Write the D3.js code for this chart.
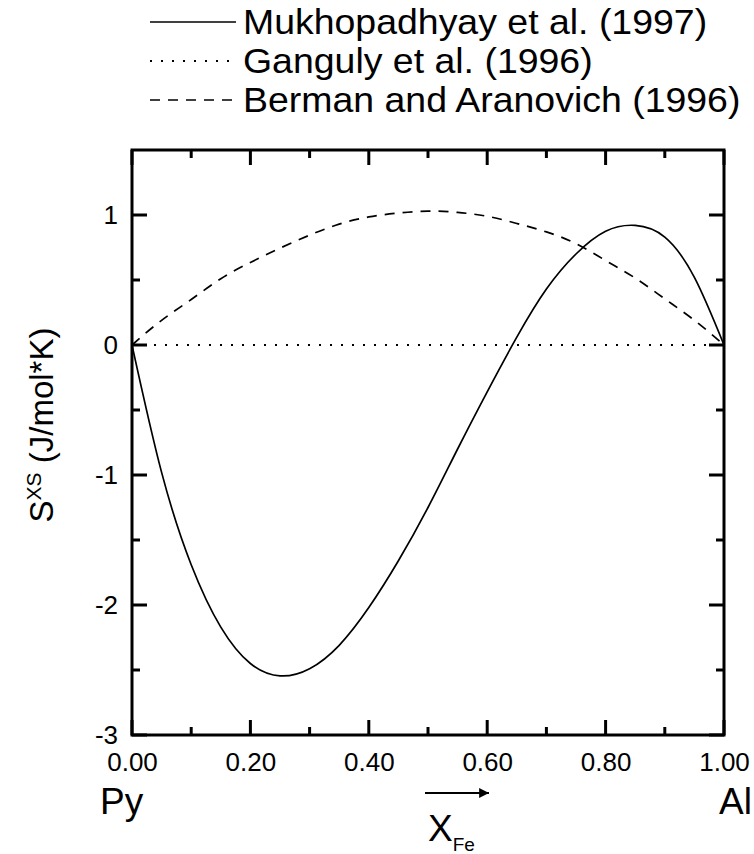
<!DOCTYPE html>
<html>
<head>
<meta charset="utf-8">
<script src="https://cdn.jsdelivr.net/npm/d3@7"></script>
<style>
  body { margin: 0; background: #fff; }
  svg { font-family: "Liberation Sans", Arial, sans-serif; }
  .curve { fill: none; stroke: #000; }
  .tickmark { stroke: #000; stroke-width: 3; }
</style>
</head>
<body>
<div id="chart"></div>
<script>
// composition X_Fe along the Py - Al join
let xFe = [0, 0.05, 0.10, 0.15, 0.20, 0.25, 0.30, 0.35, 0.40, 0.45, 0.50,
           0.55, 0.60, 0.65, 0.70, 0.75, 0.80, 0.85, 0.90, 0.95, 1.00];
// excess entropy, J/mol*K
let mukhopadhyay = [0, -0.98, -1.69, -2.17, -2.45, -2.545, -2.49, -2.31, -2.02, -1.66, -1.25,
                    -0.80, -0.36, 0.06, 0.43, 0.70, 0.875, 0.92, 0.83, 0.52, 0];
let ganguly = [0, 0, 0, 0, 0, 0, 0, 0, 0, 0, 0,
               0, 0, 0, 0, 0, 0, 0, 0, 0, 0];
let berman = [0, 0.19, 0.35, 0.51, 0.635, 0.745, 0.845, 0.93, 0.985, 1.015, 1.03,
              1.02, 0.99, 0.935, 0.87, 0.78, 0.65, 0.515, 0.355, 0.19, 0];

let seriesNames = ["Mukhopadhyay et al. (1997)", "Ganguly et al. (1996)", "Berman and Aranovich (1996)"];
let seriesDash = [null, "2,9", "10,8"];
let seriesValues = [mukhopadhyay, ganguly, berman];

let xMajor = [0, 0.2, 0.4, 0.6, 0.8, 1.0];
let xMinor = [0.1, 0.3, 0.5, 0.7, 0.9];
let yMajor = [-3, -2, -1, 0, 1];
let yMinor = [-2.5, -1.5, -0.5, 0.5];

let width = 754, height = 854;
let plot = { left: 132, right: 724, top: 150, bottom: 735 };

let svg = d3.select("#chart").append("svg")
  .attr("width", width)
  .attr("height", height);

let x = d3.scaleLinear().domain([0, 1]).range([plot.left, plot.right]);
let y = d3.scaleLinear().domain([-3, 1.5]).range([plot.bottom, plot.top]);

// tick labels from d3 axes (tick lines drawn below)
function addLabels(axis, tx, ty) {
  let g = svg.append("g")
    .attr("transform", "translate(" + tx + "," + ty + ")")
    .call(axis);
  g.select(".domain").remove();
  g.selectAll(".tick line").remove();
  g.selectAll("text")
    .style("font-size", "26px")
    .attr("fill", "#000");
  return g;
}
addLabels(d3.axisBottom(x).tickValues(xMajor).tickSize(0).tickPadding(18).tickFormat(d3.format(".2f")), 0, plot.bottom);
let yl = addLabels(d3.axisLeft(y).tickValues(yMajor).tickSize(0).tickPadding(14), plot.left, 0);
yl.selectAll("text").text((d) => d < 0 ? "-" + Math.abs(d) : d);

// inward ticks on all four sides
let ticks = svg.append("g");
function xTicks(vals, len) {
  ticks.selectAll(null).data(vals).enter().append("line")
    .attr("class", "tickmark")
    .attr("x1", (d) => x(d)).attr("x2", (d) => x(d))
    .attr("y1", plot.bottom).attr("y2", plot.bottom - len);
  ticks.selectAll(null).data(vals).enter().append("line")
    .attr("class", "tickmark")
    .attr("x1", (d) => x(d)).attr("x2", (d) => x(d))
    .attr("y1", plot.top).attr("y2", plot.top + len);
}
function yTicks(vals, len) {
  ticks.selectAll(null).data(vals).enter().append("line")
    .attr("class", "tickmark")
    .attr("y1", (d) => y(d)).attr("y2", (d) => y(d))
    .attr("x1", plot.left).attr("x2", plot.left + len);
  ticks.selectAll(null).data(vals).enter().append("line")
    .attr("class", "tickmark")
    .attr("y1", (d) => y(d)).attr("y2", (d) => y(d))
    .attr("x1", plot.right).attr("x2", plot.right - len);
}
xTicks(xMajor, 15);
xTicks(xMinor, 8);
yTicks(yMajor, 15);
yTicks(yMinor, 8);

// frame
svg.append("rect")
  .attr("x", plot.left)
  .attr("y", plot.top)
  .attr("width", plot.right - plot.left)
  .attr("height", plot.bottom - plot.top)
  .attr("fill", "none")
  .attr("stroke", "#000")
  .attr("stroke-width", 3);

// curves
let line = d3.line()
  .x((d, i) => x(xFe[i]))
  .y((d) => y(d))
  .curve(d3.curveNatural);

seriesValues.forEach((vals, i) => {
  svg.append("path")
    .datum(vals)
    .attr("class", "curve")
    .attr("stroke-dasharray", seriesDash[i])
    .attr("stroke-width", i === 1 ? 2 : 1.7)
    .attr("d", line);
});

// legend
let legend = svg.append("g");
seriesNames.forEach((name, i) => {
  let ly = 22 + i * 39;
  legend.append("line")
    .attr("x1", 150).attr("x2", 236)
    .attr("y1", ly).attr("y2", ly)
    .attr("stroke", "#000")
    .attr("stroke-width", i === 1 ? 2 : 1.7)
    .attr("stroke-dasharray", seriesDash[i]);
  legend.append("text")
    .attr("transform", "translate(243," + (ly + 12) + ") scale(1.07,1)")
    .style("font-size", "35px")
    .text(name);
});

// y axis title
let ytitle = svg.append("text")
  .attr("transform", "translate(53,425) rotate(-90)")
  .attr("text-anchor", "middle")
  .style("font-size", "33px");
ytitle.append("tspan").text("S");
ytitle.append("tspan").attr("dy", -12).style("font-size", "21px").text("XS");
ytitle.append("tspan").attr("dy", 12).text(" (J/mol*K)");

// end members and composition arrow
svg.append("text").attr("x", 100).attr("y", 814).style("font-size", "37px").text("Py");
svg.append("text").attr("x", 752).attr("y", 814).attr("text-anchor", "end").style("font-size", "37px").text("Al");

svg.append("defs").append("marker")
  .attr("id", "head")
  .attr("viewBox", "0 0 10 10")
  .attr("refX", 10).attr("refY", 5)
  .attr("markerWidth", 9).attr("markerHeight", 4.5)
  .attr("markerUnits", "strokeWidth")
  .attr("orient", "auto")
  .append("path").attr("d", "M0,0L10,5L0,10Z").attr("fill", "#000");

svg.append("line")
  .attr("x1", 425).attr("x2", 489)
  .attr("y1", 793).attr("y2", 793)
  .attr("stroke", "#000")
  .attr("stroke-width", 2.2)
  .attr("marker-end", "url(#head)");

let xtitle = svg.append("text").attr("x", 428).attr("y", 841).style("font-size", "37px");
xtitle.append("tspan").text("X");
xtitle.append("tspan").attr("dy", 10).style("font-size", "19px").text("Fe");
</script>
</body>
</html>
